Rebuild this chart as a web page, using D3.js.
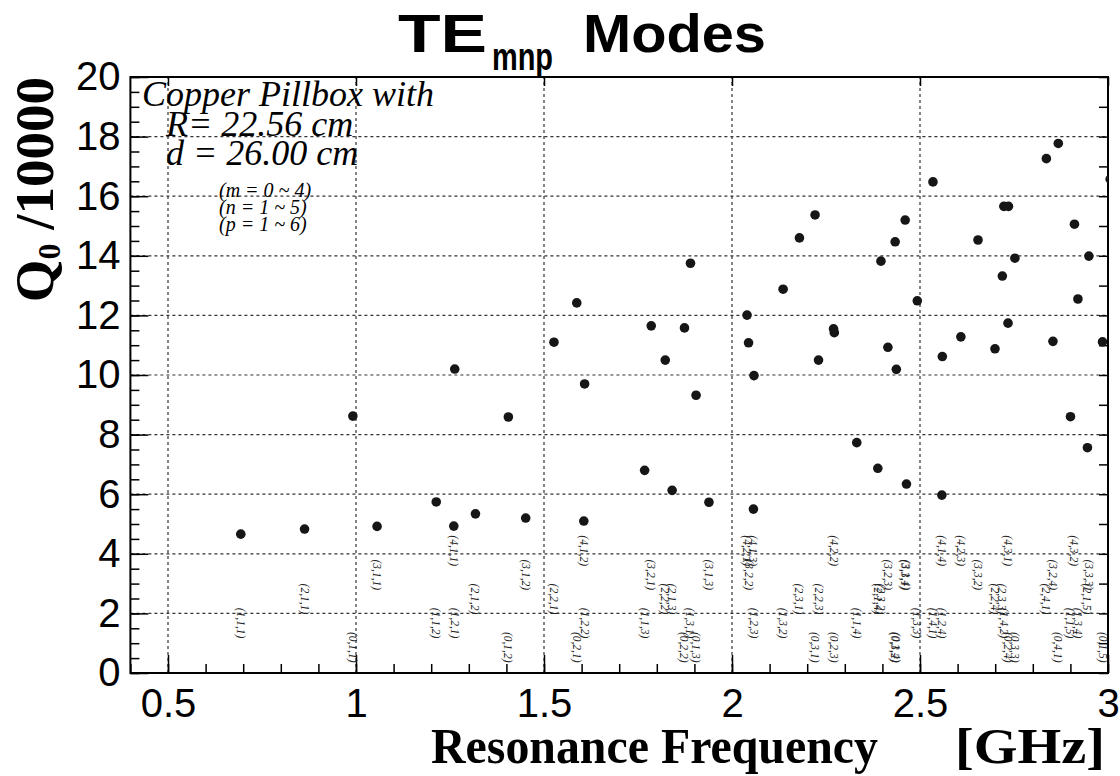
<!DOCTYPE html>
<html>
<head>
<meta charset="utf-8">
<script src="https://cdn.jsdelivr.net/npm/d3@7"></script>
<style>
  body { margin: 0; background: #fff; }
  svg { display: block; }
</style>
</head>
<body>
<svg width="1120" height="776"></svg>
<script>
// modos TE (m,n,p), frequencia de ressonancia [GHz] e Q0/10000
const modes = [
  "1,1,1", "2,1,1", "0,1,1", "3,1,1", "1,1,2", "4,1,1", "1,2,1", "2,1,2",
  "0,1,2", "3,1,2", "2,2,1", "0,2,1", "4,1,2", "1,2,2", "1,1,3", "3,2,1",
  "2,2,2", "2,1,3", "0,2,2", "1,3,1", "0,1,3", "3,1,3", "4,2,1", "3,2,2",
  "4,1,3", "1,2,3", "1,3,2", "2,3,1", "0,3,1", "2,2,3", "4,2,2", "0,2,3",
  "1,1,4", "2,1,4", "2,3,2", "3,2,3", "0,3,2", "0,1,4", "3,3,1", "3,1,4",
  "1,3,3", "1,4,1", "4,1,4", "1,2,4", "4,2,3", "3,3,2", "2,2,4", "2,3,3",
  "1,4,2", "0,2,4", "4,3,1", "0,3,3", "2,4,1", "3,2,4", "0,4,1", "1,1,5",
  "4,3,2", "1,3,4", "2,1,5", "3,3,3", "0,1,5", "2,4,2"
];
const freqGHz = [
  0.6936, 0.8632, 0.9916, 1.0560, 1.2134, 1.2601, 1.2626, 1.3177,
  1.4052, 1.4513, 1.5265, 1.5871, 1.6059, 1.6080, 1.7676, 1.7852,
  1.8225, 1.8408, 1.8736, 1.8896, 1.9044, 1.9387, 2.0400, 2.0440,
  2.0570, 2.0585, 2.1359, 2.1794, 2.2209, 2.2301, 2.2700, 2.2721,
  2.3318, 2.3878, 2.3961, 2.4146, 2.4339, 2.4371, 2.4606, 2.4640,
  2.4928, 2.5345, 2.5581, 2.5594, 2.6087, 2.6543, 2.6994, 2.7190,
  2.7230, 2.7341, 2.7353, 2.7524, 2.8361, 2.8536, 2.8678, 2.9002,
  2.9108, 2.9200, 2.9453, 2.9492, 2.9854, 3.0058
];
const q0 = [
  4.66, 4.83, 8.62, 4.92, 5.74, 4.93, 10.20, 5.34,
  8.59, 5.20, 11.10, 12.42, 5.10, 9.70, 6.80, 11.65,
  10.50, 6.13, 11.58, 13.75, 9.32, 5.73, 12.01, 11.08,
  5.50, 9.98, 12.88, 14.60, 15.37, 10.50, 11.55, 11.42,
  7.73, 6.87, 13.82, 10.93, 14.47, 10.19, 15.20, 6.34,
  12.49, 16.48, 5.97, 10.62, 11.28, 14.53, 10.88, 13.32,
  15.66, 11.74, 15.66, 13.92, 17.26, 11.13, 17.77, 8.60,
  15.06, 12.55, 7.56, 13.99, 11.11, 16.57
];

const xTickValues = [0.5, 1, 1.5, 2, 2.5, 3];
const yTickValues = [0, 2, 4, 6, 8, 10, 12, 14, 16, 18, 20];
const infoLines = ["Copper Pillbox with", "R= 22.56 cm", "d = 26.00 cm"];
const rangeLines = ["(m = 0 ~ 4)", "(n = 1 ~ 5)", "(p = 1 ~ 6)"];

const sans = "'Liberation Sans', Arial, Helvetica, sans-serif";
const serif = "'Liberation Serif', 'Times New Roman', Times, serif";

const svg = d3.select("svg");

const x = d3.scaleLinear().domain([0.4, 3.0]).range([130.4, 1108]);
const y = d3.scaleLinear().domain([0, 20]).range([673, 77]);

// clip para a area do grafico
svg.append("clipPath").attr("id", "plotClip")
  .append("rect")
  .attr("x", x(0.4)).attr("y", y(20))
  .attr("width", x(3) - x(0.4)).attr("height", y(0) - y(20));

// grade pontilhada
const grid = svg.append("g")
  .attr("stroke", "#333")
  .attr("stroke-width", 1.2)
  .attr("stroke-dasharray", "3,3");

grid.selectAll("line.gx")
  .data(xTickValues.filter(v => v < 3))
  .join("line")
  .attr("class", "gx")
  .attr("x1", d => x(d)).attr("x2", d => x(d))
  .attr("y1", y(0)).attr("y2", y(20));

grid.selectAll("line.gy")
  .data(yTickValues.filter(v => v > 0 && v < 20))
  .join("line")
  .attr("class", "gy")
  .attr("x1", x(0.4)).attr("x2", x(3))
  .attr("y1", d => y(d)).attr("y2", d => y(d));

// eixos
function cleanAxis(g) {
  g.select(".domain").remove();
  g.selectAll("line").attr("stroke", "#000").attr("stroke-width", 1.5);
  g.attr("font-size", 40).attr("font-family", sans);
  g.selectAll("text").attr("fill", "#000");
}

svg.append("g")
  .attr("transform", `translate(0,${y(0)})`)
  .call(d3.axisBottom(x).ticks(26).tickSize(-9).tickFormat(""))
  .call(cleanAxis);

svg.append("g")
  .attr("transform", `translate(0,${y(0)})`)
  .call(d3.axisBottom(x).tickValues(xTickValues).tickSize(-18).tickPadding(16)
    .tickFormat(d3.format("")))
  .call(cleanAxis);

svg.append("g")
  .attr("transform", `translate(${x(0.4)},0)`)
  .call(d3.axisLeft(y).ticks(40).tickSize(-9).tickFormat(""))
  .call(cleanAxis);

svg.append("g")
  .attr("transform", `translate(${x(0.4)},0)`)
  .call(d3.axisLeft(y).tickValues(yTickValues).tickSize(-18).tickPadding(10)
    .tickFormat(d3.format("")))
  .call(cleanAxis);

svg.append("g")
  .attr("transform", `translate(0,${y(20)})`)
  .call(d3.axisTop(x).tickValues(xTickValues).tickSize(-9).tickFormat(""))
  .call(cleanAxis);

svg.append("g")
  .attr("transform", `translate(${x(3)},0)`)
  .call(d3.axisRight(y).ticks(20).tickSize(-9).tickFormat(""))
  .call(cleanAxis);

// moldura
svg.append("rect")
  .attr("x", x(0.4)).attr("y", y(20))
  .attr("width", x(3) - x(0.4)).attr("height", y(0) - y(20))
  .attr("fill", "none")
  .attr("stroke", "#000")
  .attr("stroke-width", 2);

// pontos
const idx = d3.range(modes.length);

svg.append("g")
  .attr("clip-path", "url(#plotClip)")
  .selectAll("circle")
  .data(idx)
  .join("circle")
  .attr("cx", i => x(freqGHz[i]))
  .attr("cy", i => y(q0[i]))
  .attr("r", 4.8)
  .attr("fill", "#161616");

// rotulos (m,n,p), altura conforme m
svg.append("g")
  .selectAll("text")
  .data(idx.filter(i => freqGHz[i] <= 3))
  .join("text")
  .attr("transform", i => {
    const m = +modes[i].split(",")[0];
    return `translate(${x(freqGHz[i])},${y(1.38 + 0.81 * m)}) rotate(90)`;
  })
  .attr("dominant-baseline", "central")
  .attr("font-family", serif)
  .attr("font-style", "italic")
  .attr("font-size", 11.5)
  .attr("fill", "#222")
  .text(i => `(${modes[i]})`);

// texto informativo
const info = svg.append("g")
  .attr("font-family", serif)
  .attr("font-style", "italic")
  .attr("fill", "#000");

info.selectAll("text.info")
  .data(infoLines)
  .join("text")
  .attr("class", "info")
  .attr("x", (d, i) => i === 0 ? 142 : 166)
  .attr("y", (d, i) => [106, 136, 165][i])
  .attr("font-size", 36)
  .text(d => d);

info.selectAll("text.range")
  .data(rangeLines)
  .join("text")
  .attr("class", "range")
  .attr("x", 219)
  .attr("y", (d, i) => 197 + i * 17)
  .attr("font-size", 20)
  .text(d => d);

// titulo
svg.append("text")
  .attr("x", 398).attr("y", 52)
  .attr("font-family", sans).attr("font-weight", "bold")
  .attr("font-size", 54)
  .attr("textLength", 89).attr("lengthAdjust", "spacingAndGlyphs")
  .text("TE");

svg.append("text")
  .attr("x", 492).attr("y", 70)
  .attr("font-family", sans).attr("font-weight", "bold")
  .attr("font-size", 38)
  .attr("textLength", 61).attr("lengthAdjust", "spacingAndGlyphs")
  .text("mnp");

svg.append("text")
  .attr("x", 583).attr("y", 52)
  .attr("font-family", sans).attr("font-weight", "bold")
  .attr("font-size", 54)
  .attr("textLength", 183).attr("lengthAdjust", "spacingAndGlyphs")
  .text("Modes");

// titulos dos eixos
svg.append("text")
  .attr("x", 431).attr("y", 763)
  .attr("font-family", serif).attr("font-weight", "bold")
  .attr("font-size", 50)
  .attr("textLength", 447).attr("lengthAdjust", "spacingAndGlyphs")
  .text("Resonance Frequency");

svg.append("text")
  .attr("x", 955).attr("y", 763)
  .attr("font-family", serif).attr("font-weight", "bold")
  .attr("font-size", 50)
  .attr("textLength", 150).attr("lengthAdjust", "spacingAndGlyphs")
  .text("[GHz]");

const yTitle = svg.append("text")
  .attr("transform", `translate(53,${y(20)}) rotate(-90)`)
  .attr("text-anchor", "end")
  .attr("font-family", serif)
  .attr("font-weight", "bold")
  .attr("font-size", 55);
yTitle.append("tspan").text("Q");
yTitle.append("tspan").attr("dy", 7).attr("font-size", 32).text("0");
yTitle.append("tspan").attr("dy", -7).style("white-space", "pre").text(" /10000");
</script>
</body>
</html>
